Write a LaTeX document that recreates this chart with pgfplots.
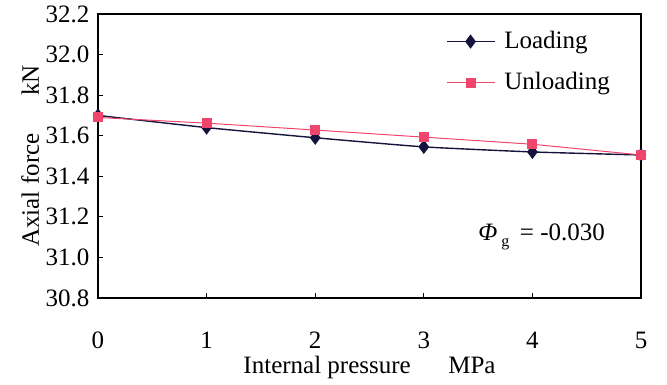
\documentclass[border=0pt]{standalone}
\usepackage{fontspec}
\setmainfont{Liberation Serif}
\usepackage{pgfplots}
\pgfplotsset{compat=1.18}
\definecolor{loadc}{RGB}{20,20,60}
\definecolor{unloadc}{RGB}{240,70,110}
\begin{document}
\fontsize{25}{29}\selectfont
\begin{tikzpicture}
\useasboundingbox (-98pt,-86pt) rectangle (569pt,298pt);
\begin{axis}[
  name=ax,
  at={(0pt,0pt)}, anchor=south west,
  scale only axis,
  width=543pt, height=284pt,
  xmin=0, xmax=5, ymin=30.8, ymax=32.2,
  xtick={0,1,2,3,4,5},
  ytick={30.8,31.0,31.2,31.4,31.6,31.8,32.0,32.2},
  yticklabel style={/pgf/number format/.cd,fixed,fixed zerofill,precision=1},
  /pgf/number format/assume math mode=true,
  tick align=inside,
  xtick pos=bottom, ytick pos=left,
  major tick length=5pt,
  axis line style={line width=1.3pt},
  every tick/.style={line width=1pt, black},
  tick label style={font=\fontsize{25}{29}\selectfont},
  xticklabel style={anchor=center, yshift=-42pt},
  label style={font=\fontsize{25}{29}\selectfont},
  xlabel={Internal pressure\hspace{1.5em}MPa},
  ylabel={Axial force\hspace{1.5em}kN},
  xlabel style={at={(axis description cs:0.5,-0.246)}, anchor=center},
  ylabel style={at={(axis description cs:-0.125,0.5)}, anchor=center},
  legend style={draw=none, fill=none, at={(0.965,0.955)}, anchor=north east,
    font=\fontsize{25}{29}\selectfont, row sep=16pt,
    nodes={inner xsep=9pt}},
  legend cell align=left,
  legend image code/.code={
    \draw[#1] (0pt,0pt) -- (48pt,0pt);
    \draw[#1, only marks] plot coordinates {(24pt,0pt)};
  },
]
\addplot[color=loadc, line width=1.4pt, smooth, tension=0.3, mark=diamond*, mark size=6pt, mark options={fill=loadc}]
  coordinates {(0,31.70) (1,31.64) (2,31.59) (3,31.545) (4,31.52) (5,31.505)};
\addlegendentry{Loading}
\addplot[color=unloadc, line width=1pt, mark=square*, mark size=4.5pt, mark options={fill=unloadc}]
  coordinates {(0,31.69) (1,31.662) (2,31.628) (3,31.593) (4,31.558) (5,31.505)};
\addlegendentry{Unloading}
\node[anchor=west, inner sep=0pt] at (axis cs:3.5,31.10) {\textit{Φ}\,\raisebox{-0.55ex}{\fontsize{16}{18}\selectfont g}\, = -0.030};
\end{axis}
\end{tikzpicture}
\end{document}
